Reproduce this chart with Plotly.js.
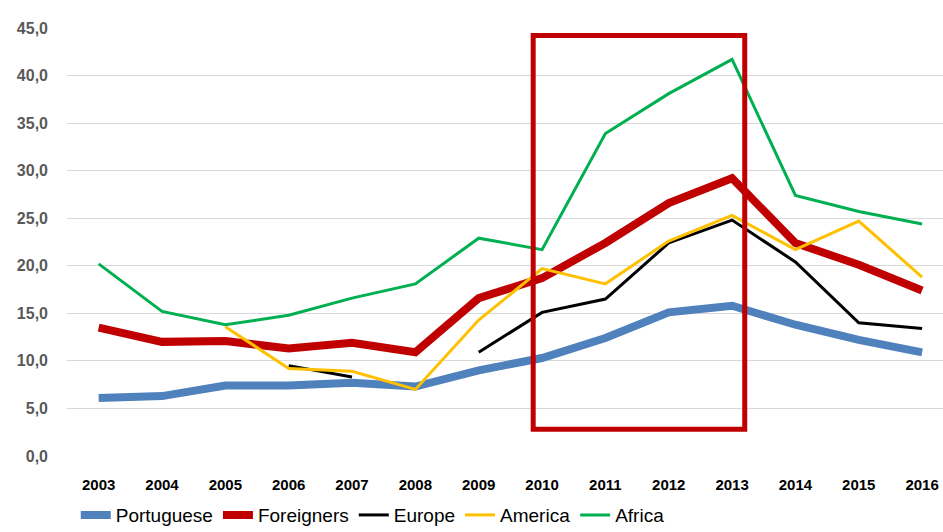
<!DOCTYPE html>
<html>
<head>
<meta charset="utf-8">
<script src="https://cdn.plot.ly/plotly-3.0.1.min.js"></script>
<style>
  html, body { margin: 0; padding: 0; background: #fff; }
  #plot { width: 943px; height: 532px; }
</style>
</head>
<body>
<div id="plot"></div>
<script>
// years on the x axis
var years = ["2003", "2004", "2005", "2006", "2007", "2008", "2009",
  "2010", "2011", "2012", "2013", "2014", "2015", "2016"];

// series values (null = no data)
var portuguese = [6.1, 6.3, 7.4, 7.4, 7.7, 7.3, 9.0, 10.3, 12.4, 15.1, 15.8, 13.8, 12.2, 10.9];
var foreigners = [13.5, 12.0, 12.1, 11.3, 11.9, 10.9, 16.6, 18.7, 22.4, 26.6, 29.2, 22.4, 20.1, 17.4];
var europe = [null, null, null, 9.5, 8.3, null, 10.9, 15.1, 16.5, 22.4, 24.8, 20.4, 14.0, 13.4];
var america = [null, null, 13.6, 9.2, 8.9, 7.0, 14.3, 19.7, 18.1, 22.6, 25.3, 21.7, 24.7, 18.8];
var africa = [20.2, 15.2, 13.8, 14.8, 16.6, 18.1, 22.9, 21.7, 33.9, 38.1, 41.7, 27.4, 25.7, 24.4];

// highlighted period
var highlightFrom = "2010";
var highlightTo = "2013";

function line(name, values, color, width) {
  return {
    x: years,
    y: values,
    name: name,
    type: "scatter",
    mode: "lines",
    connectgaps: false,
    line: { color: color, width: width }
  };
}

var data = [
  line("Portuguese", portuguese, "#4f81bd", 8),
  line("Foreigners", foreigners, "#c00000", 8),
  line("Europe", europe, "#000000", 3),
  line("America", america, "#ffc000", 3),
  line("Africa", africa, "#00b050", 3)
];

var font = "'Liberation Sans', Arial, sans-serif";

var layout = {
  width: 943,
  height: 532,
  separators: ", ",
  margin: { l: 67, r: 0, t: 28, b: 76, autoexpand: false },
  paper_bgcolor: "#ffffff",
  plot_bgcolor: "#ffffff",
  showlegend: true,
  legend: {
    orientation: "h",
    x: 0.01,
    xanchor: "left",
    y: -0.138,
    yanchor: "middle",
    font: { family: font, size: 19, color: "#000000" },
    itemwidth: 30,
    tracegroupgap: 0
  },
  xaxis: {
    type: "category",
    range: [-0.5, 13.33],
    showgrid: false,
    zeroline: false,
    showline: false,
    ticks: "",
    ticklabelstandoff: 18,
    tickfont: { family: font, size: 15, color: "#000000", weight: "bold" }
  },
  yaxis: {
    range: [0, 45],
    dtick: 5,
    tickformat: ".1f",
    showgrid: true,
    gridcolor: "#d9d9d9",
    gridwidth: 1,
    zeroline: false,
    showline: false,
    ticks: "",
    ticklabelstandoff: 18,
    tickfont: { family: font, size: 16, color: "#595959", weight: "bold" }
  },
  shapes: [{
    type: "rect",
    xref: "x",
    yref: "y",
    x0: years.indexOf(highlightFrom) - 0.14,
    x1: years.indexOf(highlightTo) + 0.2,
    y0: 2.8,
    y1: 44.2,
    line: { color: "#c00000", width: 5 },
    fillcolor: "rgba(0,0,0,0)"
  }]
};

Plotly.newPlot("plot", data, layout, { staticPlot: true });
</script>
</body>
</html>
